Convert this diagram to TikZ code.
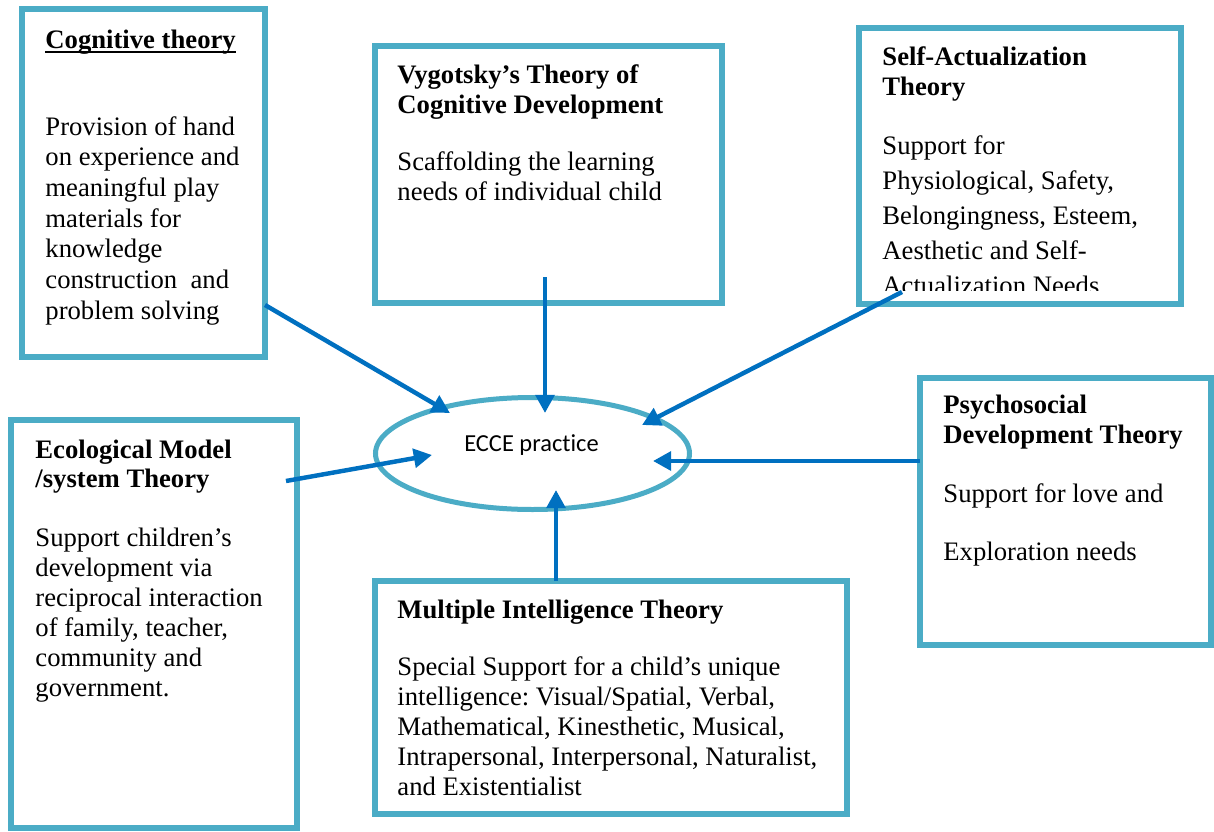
\documentclass[tikz,border=0pt]{standalone}
\usepackage{fontspec}
\setmainfont{Liberation Serif}
\newfontfamily\carlito[Ligatures=NoCommon]{Carlito}
\usetikzlibrary{arrows.meta,shapes.geometric,fit}
\definecolor{boxc}{HTML}{4BACC6}
\definecolor{arrc}{HTML}{0070C0}
\newsavebox\myulbox
\newcommand\myul[1]{\sbox\myulbox{#1}\rlap{\rule[-2.2pt]{\wd\myulbox}{0.7pt}}\usebox\myulbox}
\newcommand\tb[1]{\begin{tabular}[t]{@{}l@{}}#1\end{tabular}}
\frenchspacing
\begin{document}
\begin{tikzpicture}[x=0.45pt,y=-0.45pt,
  box/.style={draw=boxc, line width=2.7pt, inner sep=0pt},
  conn/.style={draw=arrc, line width=2pt, -{Triangle[length=8.2pt,width=8.4pt]}},
  txt/.style={anchor=base west, inner sep=0pt, font=\frenchspacing\fontsize{12}{#1}\selectfont},
  txt/.default={13.5},
  ttl/.style={anchor=base west, inner sep=0pt, font=\frenchspacing\bfseries\fontsize{12}{#1}\selectfont},
  ttl/.default={13.5}
]
\useasboundingbox (0,0) rectangle (1214,832);
\fill[white] (0,0) rectangle (1214,832);

% boxes
\node[box, fit={(22,9)(265,357)}] (cog) {};
\node[box, fit={(375,46)(722,303)}] (vyg) {};
\node[box, fit={(859,28)(1181,304)}] (self) {};
\node[box, fit={(11,420)(297,828)}] (eco) {};
\node[box, fit={(375,581)(847,814)}] (mult) {};
\node[box, fit={(920,378)(1211,645)}] (psy) {};

% centre ellipse
\node[draw=boxc, line width=2.25pt, ellipse, minimum width=141.3pt, minimum height=50.4pt, inner sep=0pt] (ecce) at (532.5,453.5) {};
\node[anchor=base, inner sep=0pt, font=\carlito\fontsize{11}{13}\selectfont] (eccet) at (531.5,451) {ECCE practice};

% texts
\node[ttl] (cogt) at (45,48) {\myul{Cognitive theory}};
\node[txt=13.8] (cogb) at (45,135) {\tb{Provision of hand\\on experience and\\meaningful play\\materials for\\knowledge\\construction~ and\\problem solving}};

\node[ttl] (vygt) at (397,83) {\tb{Vygotsky’s Theory of\\Cognitive Development}};
\node[txt] (vygb) at (397,170) {\tb{Scaffolding the learning\\needs of individual child}};

\node[ttl] (selft) at (882,65) {\tb{Self-Actualization\\Theory}};
\begin{scope}
\clip (862,31) rectangle (1178,290.5);
\node[txt=15.75] (selfb) at (882,154) {\tb{Support for\\Physiological, Safety,\\Belongingness, Esteem,\\Aesthetic and Self-\\Actualization Needs}};
\end{scope}

\node[ttl=13.1] (ecot) at (35,458) {\tb{Ecological Model\\/system Theory}};
\node[txt] (ecob) at (35,546) {\tb{Support children’s\\development via\\reciprocal interaction\\of family, teacher,\\community and\\government.}};

\node[ttl] (multt) at (397,618) {Multiple Intelligence Theory};
\node[txt] (multb) at (397,675) {\tb{Special Support for a child’s unique\\intelligence: Visual/Spatial, Verbal,\\Mathematical, Kinesthetic, Musical,\\Intrapersonal, Interpersonal, Naturalist,\\and Existentialist}};

\node[ttl=13.9] (psyt) at (943,413) {\tb{Psychosocial\\Development Theory}};
\node[txt=26.1] (psyb) at (943,502) {\tb{Support for love and\\Exploration needs}};

% connector end points
\coordinate (cogS) at (265,305);
\coordinate (cogE) at (450,413);
\coordinate (vygS) at (545,277);
\coordinate (vygE) at (545,413);
\coordinate (selfS) at (902,292);
\coordinate (selfE) at (642,425);
\coordinate (ecoS) at (286,481);
\coordinate (ecoE) at (432,455);
\coordinate (psyS) at (920,461);
\coordinate (psyE) at (653,461);
\coordinate (multS) at (556,581);
\coordinate (multE) at (556,490);

\draw[conn] (cogS) -- (cogE);
\draw[conn] (vygS) -- (vygE);
\draw[conn] (selfS) -- (selfE);
\draw[conn] (ecoS) -- (ecoE);
\draw[conn] (psyS) -- (psyE);
\draw[conn] (multS) -- (multE);
\end{tikzpicture}
\end{document}
